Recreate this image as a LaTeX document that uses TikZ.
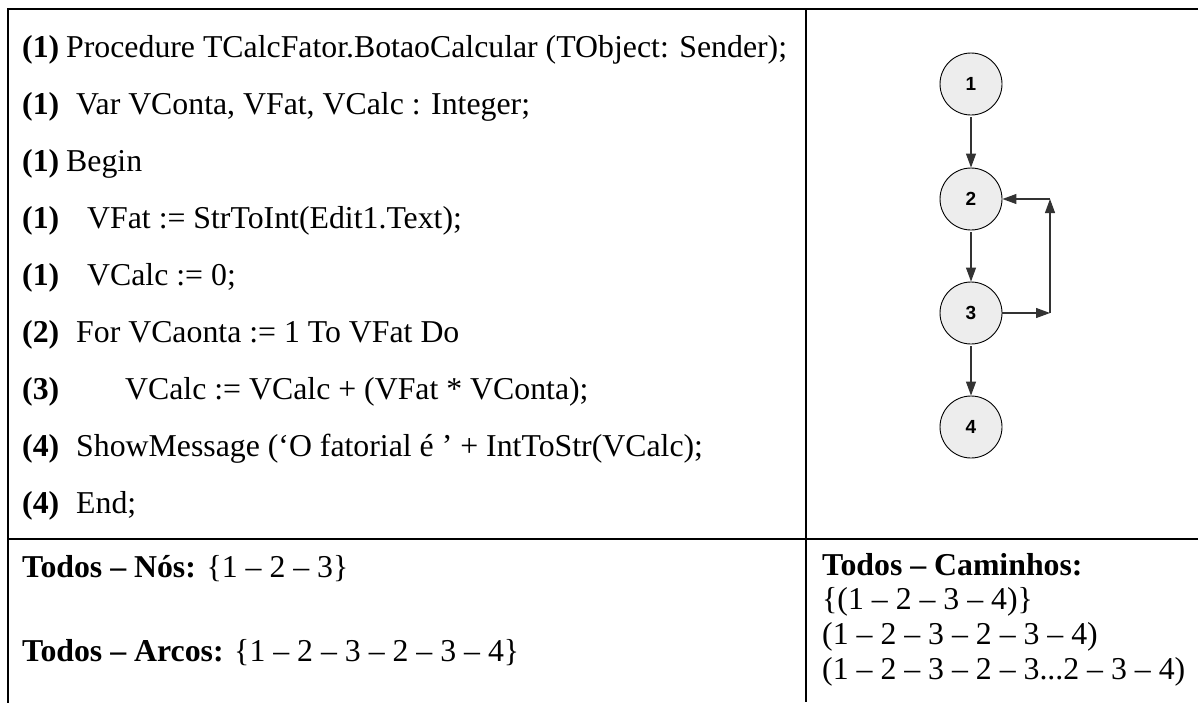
\documentclass[tikz,border=0pt]{standalone}
\usepackage{fontspec}
\setmainfont{Liberation Serif}
\newfontfamily\arialf{Liberation Sans}
\usetikzlibrary{arrows.meta}
\newcommand\codefont{\fontsize{31.8}{35}\selectfont}
\begin{document}
\begin{tikzpicture}[x=1pt,y=-1pt,
  rule/.style={line width=2.4pt},
  num/.style={anchor=base west, inner sep=0pt, font=\codefont\bfseries},
  txt/.style={anchor=base west, inner sep=0pt, font=\codefont},
  gnode/.style={circle, draw=black, line width=0.9pt, fill=black!7, minimum size=62pt, inner sep=0pt, font=\arialf\bfseries\fontsize{19}{19}\selectfont},
  edge/.style={draw=black!80, line width=1.1pt, -{Triangle[length=14pt,width=10pt]}}]
\useasboundingbox (0,0) rectangle (1198,702);
% table rules
\draw[rule, line cap=rect] (8,702) -- (8,9) -- (1198,9);
\draw[rule] (806,9) -- (806,702);
\draw[rule] (8,539) -- (1198,539);
% code lines
\node[num] (l1n) at (22,57.5) {(1)};
\node[txt] (l1t) at (66,57.5) {Procedure TCalcFator.BotaoCalcular (TObject: Sender);};
\node[num] (l2n) at (22,114.5) {(1)};
\node[txt] (l2t) at (76,114.5) {Var VConta, VFat, VCalc : Integer;};
\node[num] (l3n) at (22,171.5) {(1)};
\node[txt] (l3t) at (66,171.5) {Begin};
\node[num] (l4n) at (22,228.5) {(1)};
\node[txt] (l4t) at (87,228.5) {VFat := StrToInt(Edit1.Text);};
\node[num] (l5n) at (22,285.5) {(1)};
\node[txt] (l5t) at (87,285.5) {VCalc := 0;};
\node[num] (l6n) at (22,342.5) {(2)};
\node[txt] (l6t) at (76,342.5) {For VCaonta := 1 To VFat Do};
\node[num] (l7n) at (22,399.5) {(3)};
\node[txt] (l7t) at (125,399.5) {VCalc := VCalc + (VFat * VConta);};
\node[num] (l8n) at (22,456.5) {(4)};
\node[txt] (l8t) at (76,456.5) {ShowMessage (‘O fatorial é ’ + IntToStr(VCalc);};
\node[num] (l9n) at (22,513.5) {(4)};
\node[txt] (l9t) at (76,513.5) {End;};
% bottom left
\node[txt] (nos) at (22,577) {\textbf{Todos – Nós:} \{1 – 2 – 3\}};
\node[txt] (arcos) at (22,661) {\textbf{Todos – Arcos:} \{1 – 2 – 3 – 2 – 3 – 4\}};
% bottom right
\node[txt] (cam1) at (822,575) {\textbf{Todos – Caminhos:}};
\node[txt] (cam2) at (822,609) {\{(1 – 2 – 3 – 4)\}};
\node[txt] (cam3) at (822,644) {(1 – 2 – 3 – 2 – 3 – 4)};
\node[txt] (cam4) at (822,679) {(1 – 2 – 3 – 2 – 3...2 – 3 – 4)};
% graph
\node[gnode] (n1) at (971,84) {1};
\node[gnode] (n2) at (971,199) {2};
\node[gnode] (n3) at (971,313) {3};
\node[gnode] (n4) at (971,427) {4};
\coordinate (c1) at (1050,313);
\coordinate (c2) at (1050,199);
\draw[edge, shorten <=2pt] (n1) -- (n2);
\draw[edge, shorten <=2pt] (n2) -- (n3);
\draw[edge, shorten <=2pt] (n3) -- (n4);
\draw[edge] (n3) -- (c1);
\draw[edge] (c1) -- (c2);
\draw[edge] (c2) -- (n2);
\end{tikzpicture}
\end{document}
